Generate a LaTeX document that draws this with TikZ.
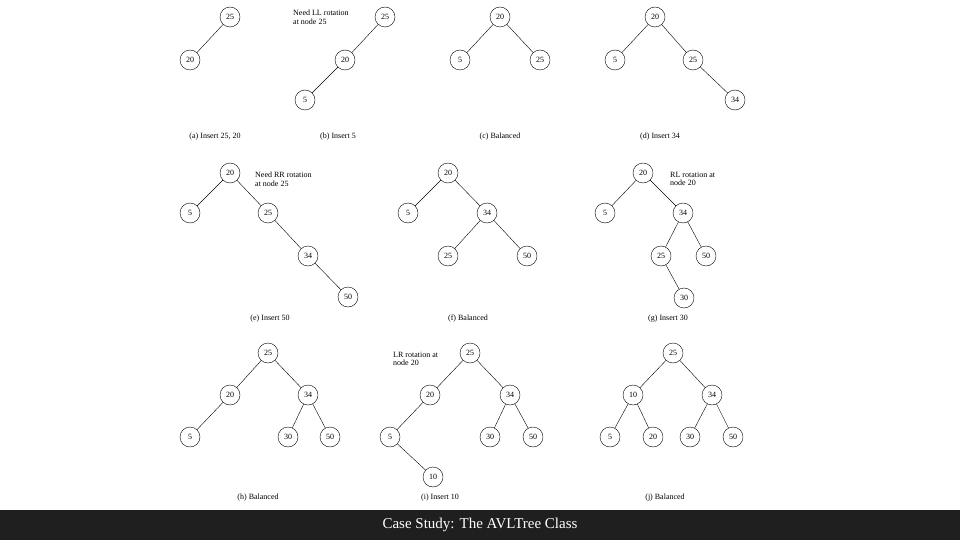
\documentclass[tikz,border=0pt]{standalone}
\usepackage{fontspec}
\setmainfont{Liberation Serif}
\begin{document}
\begin{tikzpicture}[x=1pt,y=-1pt,
  nd/.style={circle,draw,thin,minimum size=20pt,inner sep=0pt,font=\fontsize{8}{9}\selectfont},
  capt/.style={font=\fontsize{8}{9}\selectfont},
  note/.style={font=\fontsize{8}{8.5}\selectfont,align=left,anchor=north west,inner sep=0pt},
  every path/.style={thin}]
\useasboundingbox (0,0) rectangle (960,540);
\fill[white] (0,0) rectangle (960,540);
% (a)
\node[nd] (a25) at (230,17) {25};
\node[nd] (a20) at (190,60) {20};
\draw (a25)--(a20);
\node[capt] (ac) at (215,137) {(a) Insert 25, 20};
% (b)
\node[nd] (b25) at (385,17) {25};
\node[nd] (b20) at (345,60) {20};
\node[nd] (b5) at (305,100) {5};
\draw (b25)--(b20) (b20)--(b5);
\node[note] (bn) at (293,10) {Need LL rotation\\at node 25};
\node[capt] (bc) at (338,137) {(b) Insert 5};
% (c)
\node[nd] (c20) at (500,17) {20};
\node[nd] (c5) at (460,60) {5};
\node[nd] (c25) at (540,60) {25};
\draw (c20)--(c5) (c20)--(c25);
\node[capt] (cc) at (500,137) {(c) Balanced};
% (d)
\node[nd] (d20) at (655,17) {20};
\node[nd] (d5) at (615,60) {5};
\node[nd] (d25) at (693,60) {25};
\node[nd] (d34) at (735,100) {34};
\draw (d20)--(d5) (d20)--(d25) (d25)--(d34);
\node[capt] (dc) at (660,137) {(d) Insert 34};
% (e)
\node[nd] (e20) at (230,173) {20};
\node[nd] (e5) at (190,213) {5};
\node[nd] (e25) at (268,213) {25};
\node[nd] (e34) at (308,256) {34};
\node[nd] (e50) at (348,297) {50};
\draw (e20)--(e5) (e20)--(e25) (e25)--(e34) (e34)--(e50);
\node[note] (en) at (255,172) {Need RR rotation\\at node 25};
\node[capt] (ec) at (270,319) {(e) Insert 50};
% (f)
\node[nd] (f20) at (448,173) {20};
\node[nd] (f5) at (408,213) {5};
\node[nd] (f34) at (487,213) {34};
\node[nd] (f25) at (448,256) {25};
\node[nd] (f50) at (527,256) {50};
\draw (f20)--(f5) (f20)--(f34) (f34)--(f25) (f34)--(f50);
\node[capt] (fc) at (468,319) {(f) Balanced};
% (g)
\node[nd] (g20) at (643,173) {20};
\node[nd] (g5) at (605,213) {5};
\node[nd] (g34) at (683,213) {34};
\node[nd] (g25) at (661,256) {25};
\node[nd] (g50) at (706,256) {50};
\node[nd] (g30) at (684,298) {30};
\draw (g20)--(g5) (g20)--(g34) (g34)--(g25) (g34)--(g50) (g25)--(g30);
\node[note] (gn) at (670,172) {RL rotation at\\node 20};
\node[capt] (gc) at (668,319) {(g) Insert 30};
% (h)
\node[nd] (h25) at (268,353) {25};
\node[nd] (h20) at (230,395) {20};
\node[nd] (h34) at (308,395) {34};
\node[nd] (h5) at (190,437) {5};
\node[nd] (h30) at (288,437) {30};
\node[nd] (h50) at (330,437) {50};
\draw (h25)--(h20) (h25)--(h34) (h20)--(h5) (h34)--(h30) (h34)--(h50);
\node[capt] (hc) at (258,498) {(h) Balanced};
% (i)
\node[nd] (i25) at (470,353) {25};
\node[nd] (i20) at (430,395) {20};
\node[nd] (i34) at (510,395) {34};
\node[nd] (i5) at (390,437) {5};
\node[nd] (i30) at (490,437) {30};
\node[nd] (i50) at (533,437) {50};
\node[nd] (i10) at (433,477) {10};
\draw (i25)--(i20) (i25)--(i34) (i20)--(i5) (i34)--(i30) (i34)--(i50) (i5)--(i10);
\node[note] (in) at (393,352) {LR rotation at\\node 20};
\node[capt] (ic) at (440,498) {(i) Insert 10};
% (j)
\node[nd] (j25) at (673,353) {25};
\node[nd] (j10) at (633,395) {10};
\node[nd] (j34) at (712,395) {34};
\node[nd] (j5) at (610,437) {5};
\node[nd] (j20) at (653,437) {20};
\node[nd] (j30) at (690,437) {30};
\node[nd] (j50) at (733,437) {50};
\draw (j25)--(j10) (j25)--(j34) (j10)--(j5) (j10)--(j20) (j34)--(j30) (j34)--(j50);
\node[capt] (jc) at (665,498) {(j) Balanced};
% footer
\fill[black!88] (0,510) rectangle (960,540);
\node[text=white,font=\fontsize{15}{18}\selectfont] (title) at (480,525) {Case Study: The AVLTree Class};
\end{tikzpicture}
\end{document}
